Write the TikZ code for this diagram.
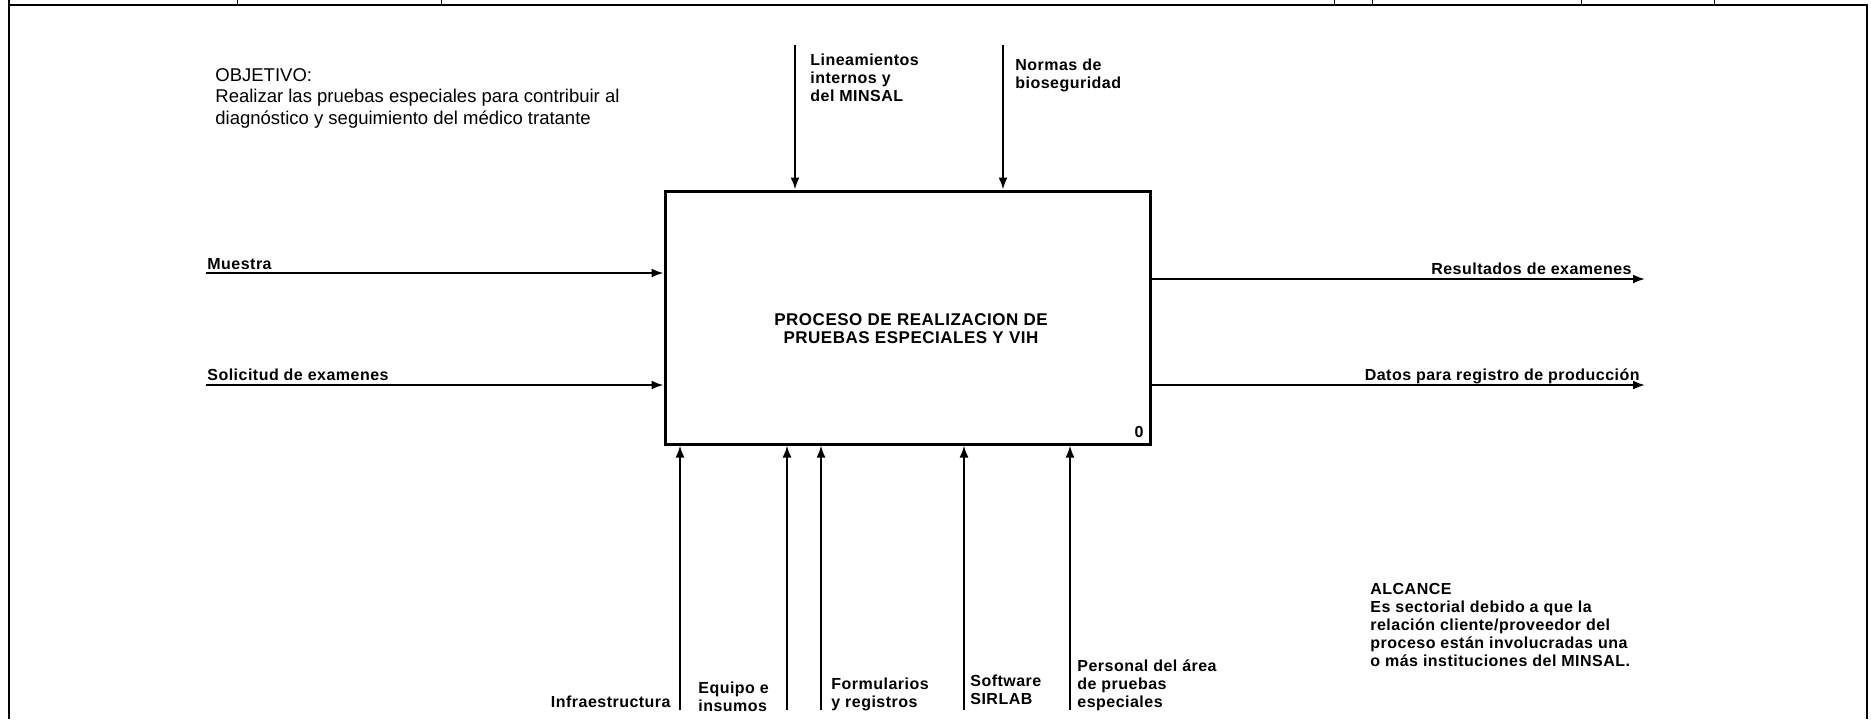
\documentclass[tikz,border=0pt]{standalone}
\usepackage{fontspec}
\setmainfont{Liberation Sans}
\newfontfamily\idfont[LetterSpace=3]{Liberation Sans}
\usetikzlibrary{arrows.meta,positioning}
\tikzset{
  frm/.style={line width=1.2pt},
  tck/.style={line width=0.5pt},
  lbl/.style={font=\idfont\bfseries\fontsize{8}{9}\selectfont,inner sep=0pt,align=left},
  flw/.style={-{Latex[length=6pt,width=4.5pt]},line width=1pt},
  prc/.style={draw,line width=1.5pt,minimum width=242.5pt,minimum height=126.5pt,inner sep=0pt}
}
\begin{document}
\begin{tikzpicture}[x=0.5pt,y=-0.5pt]
\useasboundingbox (0,0) rectangle (1871,719);
\draw[frm] (9,0) -- (9,719);
\draw[frm] (9,5) -- (1867,5) -- (1867,719);
\foreach \tx in {237,441,1334,1372,1581,1714}
  \draw[tck] (\tx,0) -- (\tx,5);
\node[anchor=north west,inner sep=0pt,align=left,font=\fontsize{9.25}{10.75}\selectfont] (obj) at (215,68)
  {OBJETIVO:\\Realizar las pruebas especiales para contribuir al\\diagnóstico y seguimiento del médico tratante};
\node[prc] (proc) at (907.5,317.5) {};
\node[lbl,align=center,font=\idfont\bfseries\fontsize{8.5}{9}\selectfont] (ptitle) at (911,329) {PROCESO DE REALIZACION DE\\PRUEBAS ESPECIALES Y VIH};
\node[lbl] (pnum) at (1139,432) {0};
\coordinate (in1) at (206,273);
\coordinate (in2) at (206,385);
\draw[flw] (in1) -- (in1 -| proc.west);
\draw[flw] (in2) -- (in2 -| proc.west);
\node[lbl,anchor=base west] (muestra) at (207,269) {Muestra};
\node[lbl,anchor=base west] (solic) at (207,380) {Solicitud de examenes};
\coordinate (out1) at (1645,279);
\coordinate (out2) at (1645,385);
\draw[flw] (out1 -| proc.east) -- (out1);
\draw[flw] (out2 -| proc.east) -- (out2);
\node[lbl,anchor=base east] (result) at (1632,274) {Resultados de examenes};
\node[lbl,anchor=base east] (datos) at (1640,380) {Datos para registro de producción};
\coordinate (c1) at (795,45);
\coordinate (c2) at (1003,45);
\draw[flw] (c1) -- (c1 |- proc.north);
\draw[flw] (c2) -- (c2 |- proc.north);
\node[lbl,anchor=north west] (linea) at (810,53) {Lineamientos\\internos y\\del MINSAL};
\node[lbl,anchor=north west] (normas) at (1015,58) {Normas de\\bioseguridad};
\foreach \mx/\mn in {680/m1,787/m2,821/m3,964/m4,1070/m5}{
  \coordinate (\mn) at (\mx,710);
  \draw[flw] (\mn) -- (\mn |- proc.south);
}
\node[lbl,anchor=north east] (infra) at (671,695) {Infraestructura};
\node[lbl,anchor=north west] (equipo) at (698,681) {Equipo e\\insumos};
\node[lbl,anchor=north west] (formul) at (831,677) {Formularios\\y registros};
\node[lbl,anchor=north west] (softw) at (970,674) {Software\\SIRLAB};
\node[lbl,anchor=north west] (person) at (1077,659) {Personal del área\\de pruebas\\especiales};
\node[lbl,anchor=north west] (alcance) at (1370,583)
  {ALCANCE\\Es sectorial debido a que la\\relación cliente/proveedor del\\proceso están involucradas una\\o más instituciones del MINSAL.};
\end{tikzpicture}
\end{document}
